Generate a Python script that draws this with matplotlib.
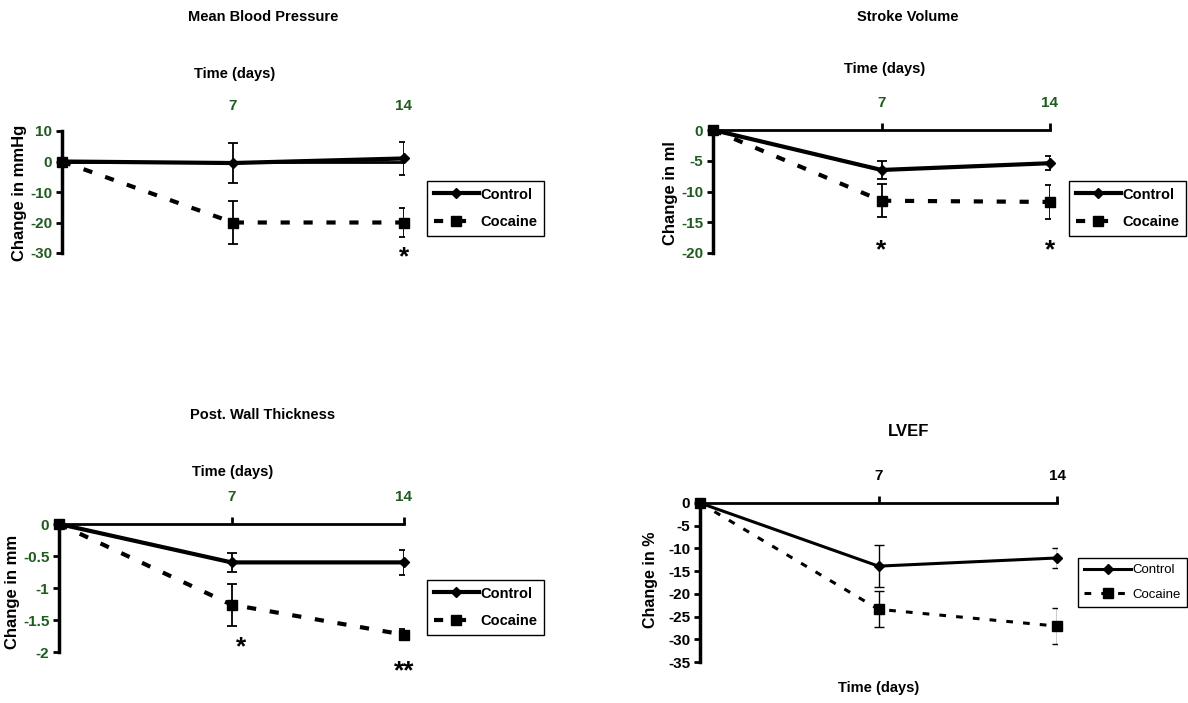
import numpy as np
import matplotlib.pyplot as plt

# Data (change from baseline, mean and error bars)
days = [0, 7, 14]

mbp_control = [0, -0.5, 1.0]
mbp_control_err = [0, 6.5, 5.3]
mbp_cocaine = [0, -20, -20]
mbp_cocaine_err = [0, 7.0, 4.7]
mbp_stars = ['', '', '*']

sv_control = [0, -6.5, -5.4]
sv_control_err = [0, 1.4, 1.1]
sv_cocaine = [0, -11.5, -11.7]
sv_cocaine_err = [0, 2.7, 2.7]
sv_stars = ['', '*', '*']

pwt_control = [0, -0.6, -0.6]
pwt_control_err = [0, 0.15, 0.19]
pwt_cocaine = [0, -1.26, -1.73]
pwt_cocaine_err = [0, 0.33, 0.09]
pwt_stars = ['', '*', '**']

lvef_control = [0, -13.9, -12.1]
lvef_control_err = [0, 4.6, 2.3]
lvef_cocaine = [0, -23.4, -27.1]
lvef_cocaine_err = [0, 4.0, 3.9]

W, H = 1188, 703
plt.rcParams['font.family'] = ['Liberation Sans', 'DejaVu Sans']
plt.rcParams['font.weight'] = 'bold'
fig = plt.figure(figsize=(W / 100, H / 100), dpi=100)

green = '#1f5c1f'


def add_ax(left, right, top, bottom):
    return fig.add_axes([left / W, 1 - bottom / H, (right - left) / W, (bottom - top) / H])


def ftext(x, y, s, **kw):
    fig.text(x / W, 1 - y / H, s, ha='center', va='center', **kw)


def panel(ax, ctrl, ctrl_err, coc, coc_err, ylim, yticks, ylabels, color, lw, ebw):
    ax.errorbar(days[1:], ctrl[1:], yerr=ctrl_err[1:], fmt='none', ecolor='black',
                elinewidth=ebw, capsize=3.5, capthick=ebw, zorder=2)
    ax.errorbar(days[1:], coc[1:], yerr=coc_err[1:], fmt='none', ecolor='black',
                elinewidth=ebw, capsize=3.5, capthick=ebw, zorder=2)
    l2, = ax.plot(days, coc, color='black', lw=lw, dashes=(2.2, 3.3), marker='s', ms=7,
                  label='Cocaine', clip_on=False, zorder=3)
    l1, = ax.plot(days, ctrl, color='black', lw=lw, marker='D', ms=5.5,
                  label='Control', clip_on=False, zorder=4)
    ax.set_xlim(0, 14)
    ax.set_ylim(*ylim)
    ax.set_xticks([7, 14])
    ax.set_xticklabels(['7', '14'])
    ax.xaxis.tick_top()
    ax.spines['bottom'].set_visible(False)
    ax.spines['right'].set_visible(False)
    ax.spines['left'].set_linewidth(2.5)
    ax.spines['top'].set_linewidth(2)
    ax.set_yticks(yticks)
    ax.set_yticklabels(ylabels)
    ax.tick_params(axis='y', direction='out', length=4, width=2, labelsize=11,
                   labelcolor=color, pad=3)
    ax.tick_params(axis='x', direction='out', length=5, width=2, labelsize=11,
                   labelcolor=color, pad=9.5)
    ax.patch.set_visible(False)
    return [l1, l2]


def legend(ax, handles, left, top, size, weight, hl):
    ax.legend(handles=handles, loc='upper left', bbox_to_anchor=(left / W, 1 - top / H),
              bbox_transform=fig.transFigure, borderaxespad=0, fancybox=False,
              edgecolor='black', framealpha=1, handlelength=hl, handletextpad=0.1,
              borderpad=0.45, labelspacing=0.95, prop={'size': size, 'weight': weight})


# Mean Blood Pressure
ax1 = add_ax(62, 404, 131, 253)
h = panel(ax1, mbp_control, mbp_control_err, mbp_cocaine, mbp_cocaine_err,
          (-30, 10), [-30, -20, -10, 0, 10], ['-30', '-20', '-10', '0', '10'], green, 3, 1.3)
ax1.spines['top'].set_visible(False)
ax1.tick_params(axis='x', length=0, pad=13)
ax1.axhline(0, color='black', lw=2, zorder=1)
legend(ax1, h, 427, 181, 10.5, 'bold', 3.1)
for d, s in zip(days, mbp_stars):
    if s:
        ax1.text(d, -31.5, s, ha='center', va='center', fontsize=19, fontweight='bold')
ftext(263, 17, 'Mean Blood Pressure', fontsize=10.5, fontweight='bold')
ftext(235, 74, 'Time (days)', fontsize=10.5, fontweight='bold')
ftext(20, 193, 'Change in mmHg', fontsize=12, fontweight='bold', rotation=90)

# Stroke Volume
ax2 = add_ax(713, 1050, 130, 253)
h = panel(ax2, sv_control, sv_control_err, sv_cocaine, sv_cocaine_err,
          (-20, 0), [-20, -15, -10, -5, 0], ['-20', '-15', '-10', '-5', '0'], green, 3, 1.3)
legend(ax2, h, 1069, 181, 10.5, 'bold', 3.1)
for d, s in zip(days, sv_stars):
    if s:
        ax2.text(d, -19.6, s, ha='center', va='center', fontsize=19, fontweight='bold')
ftext(908, 17, 'Stroke Volume', fontsize=10.5, fontweight='bold')
ftext(885, 69, 'Time (days)', fontsize=10.5, fontweight='bold')
ftext(670, 193, 'Change in ml', fontsize=12, fontweight='bold', rotation=90)

# Post. Wall Thickness
ax3 = add_ax(59, 404, 524, 652)
h = panel(ax3, pwt_control, pwt_control_err, pwt_cocaine, pwt_cocaine_err,
          (-2, 0), [-2, -1.5, -1, -0.5, 0], ['-2', '-1.5', '-1', '-0.5', '0'], green, 3, 1.3)
legend(ax3, h, 427, 580, 10.5, 'bold', 3.1)
star_x = [0, 7.4, 14]
star_y = [0, -1.93, -2.3]
for d, y, s in zip(star_x, star_y, pwt_stars):
    if s:
        ax3.text(d, y, s, ha='center', va='center', fontsize=19, fontweight='bold')
ftext(263, 415, 'Post. Wall Thickness', fontsize=10.5, fontweight='bold')
ftext(233, 472, 'Time (days)', fontsize=10.5, fontweight='bold')
ftext(12, 592, 'Change in mm', fontsize=12, fontweight='bold', rotation=90)

# LVEF
ax4 = add_ax(700, 1057, 503, 662)
h = panel(ax4, lvef_control, lvef_control_err, lvef_cocaine, lvef_cocaine_err,
          (-35, 0), list(range(-35, 1, 5)), [str(v) for v in range(-35, 1, 5)], 'black', 2.2, 1.0)
legend(ax4, h, 1078, 558, 9.5, 'normal', 3.6)
ftext(909, 432, 'LVEF', fontsize=12, fontweight='bold')
ftext(879, 688, 'Time (days)', fontsize=10.5, fontweight='bold')
ftext(650, 580, 'Change in %', fontsize=11.5, fontweight='bold', rotation=90)

plt.savefig('out.png', dpi=100)
